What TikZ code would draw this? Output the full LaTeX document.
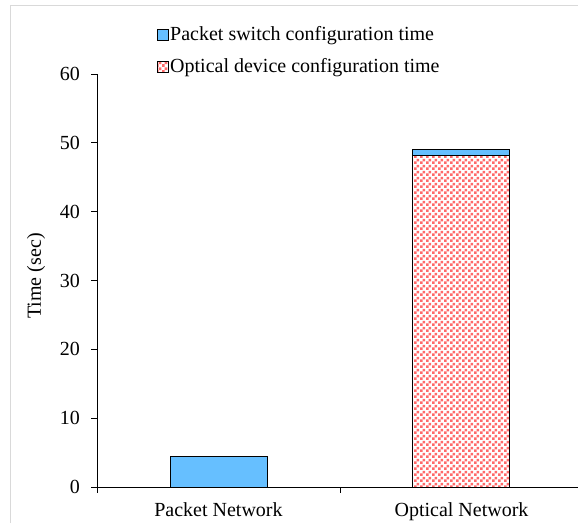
\documentclass[tikz,border=0pt]{standalone}
\usepackage{fontspec}
\setmainfont{Liberation Serif}
\usetikzlibrary{patterns.meta}
\definecolor{barblue}{RGB}{102,191,255}
\definecolor{checkred}{RGB}{255,105,105}
\definecolor{framegray}{RGB}{217,217,217}
\tikzdeclarepattern{
  name=redcheck,
  type=uncolored,
  bottom left={(0pt,0pt)},
  top right={(6pt,6pt)},
  tile size={(6pt,6pt)},
  code={
    \fill (0pt,0pt) rectangle (3pt,3pt);
    \fill (3pt,3pt) rectangle (6pt,6pt);
  }
}
\tikzset{
  lbl/.style={font=\fontsize{20}{23}\selectfont, inner sep=0pt},
  axisline/.style={line width=0.9pt, black},
  bluebar/.style={fill=barblue, draw=black, line width=0.8pt},
  redbar/.style={preaction={fill=white}, pattern=redcheck, pattern color=checkred, draw=black, line width=0.8pt},
}
\begin{document}
\begin{tikzpicture}[x=1pt,y=-1pt]
\useasboundingbox (0,0) rectangle (578,523);
\draw[framegray, line width=1pt] (10.5,523) -- (10.5,5) -- (578,5);
% axes
\coordinate (ytop) at (97,74);
\coordinate (orig) at (97,487);
\coordinate (xend) at (578,487);
\draw[axisline] (ytop) -- (orig) -- (xend);
\foreach \v in {0,10,...,60} {
  \pgfmathsetmacro{\yy}{487-\v*6.8833}
  \coordinate (tk\v) at (97,\yy);
  \draw[axisline] (tk\v) -- ++(-6,0);
  \node[lbl, anchor=east] (tl\v) at (80,\yy) {\v};
}
\coordinate (xt0) at (97,487);
\coordinate (xt1) at (340,487);
\draw[axisline] (xt0) -- ++(0,6);
\draw[axisline] (xt1) -- ++(0,6);
% category labels
\node[lbl, anchor=base] (cat1) at (218.5,516) {Packet Network};
\node[lbl, anchor=base] (cat2) at (461.5,516) {Optical Network};
\node[lbl, rotate=90] (ylab) at (36,276) {Time (sec)};
% bars
\draw[bluebar] (170,487) rectangle (267,456.7);
\draw[redbar] (412,487) rectangle (509,155.4);
\draw[bluebar] (412,155.4) rectangle (509,149.2);
% legend
\draw[bluebar] (157,29) rectangle (168,40);
\node[lbl, anchor=base west] (leg1) at (170,40) {Packet switch configuration time};
\draw[redbar] (157,61) rectangle (168,72);
\node[lbl, anchor=base west] (leg2) at (170,72) {Optical device configuration time};
\end{tikzpicture}
\end{document}
